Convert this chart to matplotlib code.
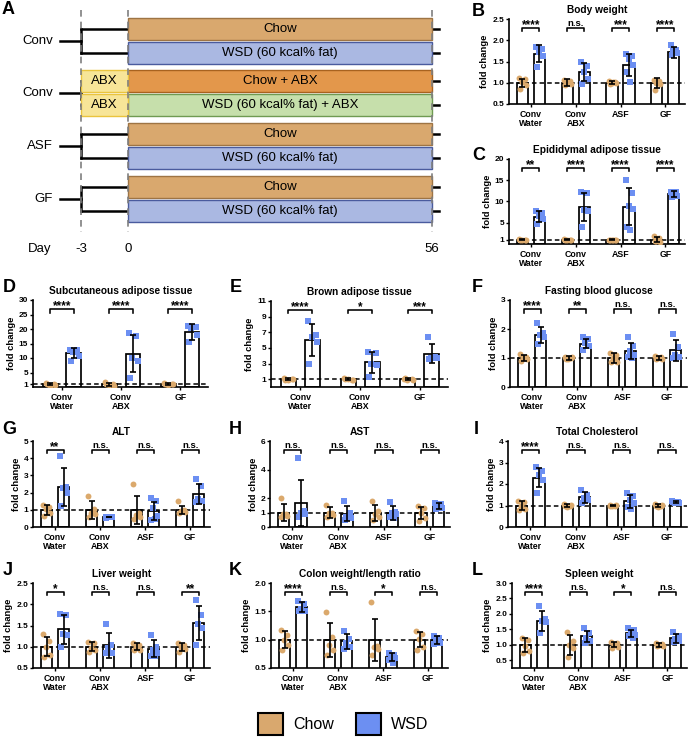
import numpy as np
import matplotlib.pyplot as plt
import matplotlib.transforms as mtransforms
from matplotlib.patches import Rectangle

plt.rcParams['font.family'] = ['Liberation Sans', 'DejaVu Sans']

W, H = 689, 740
CHOW_DOT = '#DBA96C'
WSD_DOT = '#6C8FF2'

# ---------------- data ----------------
groups4 = ['Conv\nWater', 'Conv\nABX', 'ASF', 'GF']
groups3 = ['Conv\nWater', 'Conv\nABX', 'GF']

# B body weight
bw_chow = [[1.12, 1.08, 1.02, 0.95, 0.86], [1.07, 1.05, 1.0, 0.98, 0.95],
           [1.03, 1.02, 1.0, 0.99, 0.97, 1.01], [1.07, 1.05, 1.0, 0.97, 0.82]]
bw_wsd = [[1.85, 1.80, 1.72, 1.62, 1.38], [1.50, 1.40, 1.25, 1.10, 0.98],
          [1.68, 1.64, 1.55, 1.42, 1.25, 1.02], [1.88, 1.78, 1.75, 1.70, 1.66]]
bw_mean = [[1.0, 1.0, 1.0, 1.0], [1.68, 1.25, 1.42, 1.72]]
bw_sd = [[0.1, 0.08, 0.04, 0.12], [0.2, 0.21, 0.25, 0.13]]
bw_sig = ['****', 'n.s.', '***', '****']

# C epididymal adipose tissue
ep_chow = [[1.1, 1.0, 0.9, 1.0, 0.95], [1.1, 1.0, 0.9, 1.05, 0.95],
           [1.05, 1.0, 0.95, 1.0, 0.9, 1.05], [1.8, 1.3, 0.8, 0.5, 0.6]]
ep_wsd = [[7.7, 7.3, 6.6, 5.9, 4.8], [12.3, 12.0, 8.0, 7.8, 3.9],
          [15.1, 12.0, 9.0, 8.2, 4.0, 3.2], [12.3, 12.2, 11.6, 11.3, 11.0]]
ep_mean = [[1.0, 1.0, 1.0, 1.0], [6.4, 8.7, 8.8, 11.7]]
ep_sd = [[0.1, 0.12, 0.08, 0.6], [1.3, 3.4, 4.4, 0.7]]
ep_sig = ['**', '****', '****', '****']

# D subcutaneous adipose tissue
sc_chow = [[1.5, 1.0, 0.5, 0.7, 1.2], [1.8, 1.2, 0.7, 0.5, 1.0], [1.3, 0.9, 0.6, 1.0, 1.2]]
sc_wsd = [[12.9, 12.6, 12.0, 10.6, 9.0], [18.6, 17.5, 10.0, 9.0, 3.0], [21.0, 20.6, 20.4, 18.1, 15.4]]
sc_mean = [[1.0, 1.0, 1.0], [11.7, 11.5, 19.0]]
sc_sd = [[0.45, 0.55, 0.4], [1.7, 6.4, 2.7]]
sc_sig = ['****', '****', '****']

# E brown adipose tissue
br_chow = [[1.1, 1.0, 0.9, 1.05, 0.95], [1.1, 0.95, 1.0, 0.9, 1.05], [1.05, 1.0, 0.9, 0.95, 1.1]]
br_wsd = [[8.5, 6.6, 6.4, 5.8, 2.9], [4.5, 4.35, 2.9, 2.8, 1.3], [6.4, 3.8, 3.7, 3.65, 3.6]]
br_mean = [[1.0, 1.0, 1.0], [6.0, 3.15, 4.25]]
br_sd = [[0.15, 0.12, 0.1], [2.05, 1.3, 1.2]]
br_sig = ['****', '*', '***']

# F fasting blood glucose
gl_chow = [[1.15, 1.05, 1.0, 0.95, 0.9], [1.05, 1.0, 0.97, 1.02, 0.96],
           [1.18, 1.1, 1.0, 0.85, 0.85, 1.0], [1.07, 1.03, 1.0, 0.95, 0.98]]
gl_wsd = [[2.2, 1.87, 1.8, 1.73, 1.48], [1.71, 1.67, 1.52, 1.4, 1.26],
          [1.71, 1.4, 1.25, 1.11, 1.03, 1.0], [1.84, 1.37, 1.11, 1.03, 1.0]]
gl_mean = [[1.0, 1.0, 1.0, 1.0], [1.8, 1.5, 1.25, 1.26]]
gl_sd = [[0.1, 0.07, 0.17, 0.08], [0.27, 0.17, 0.27, 0.36]]
gl_sig = ['****', '**', 'n.s.', 'n.s.']

# G ALT
alt_chow = [[1.3, 1.17, 1.02, 0.83, 0.65], [1.79, 1.05, 0.83, 0.77, 0.6],
            [2.5, 0.83, 0.7, 0.58, 0.45], [1.5, 1.0, 0.92, 0.88, 0.83]]
alt_wsd = [[4.15, 2.3, 2.27, 1.98, 1.25], [0.55, 0.57, 0.59, 0.6, 0.56],
           [1.69, 1.5, 1.12, 0.63, 0.4, 0.44], [2.8, 2.37, 1.6, 1.5, 1.46]]
alt_mean = [[1.0, 1.0, 1.0, 1.0], [2.33, 0.58, 0.93, 1.93]]
alt_sd = [[0.3, 0.52, 0.83, 0.25], [1.1, 0.02, 0.5, 0.58]]
alt_sig = ['**', 'n.s.', 'n.s.', 'n.s.']

# H AST
ast_chow = [[2.03, 0.92, 0.88, 0.76, 0.69], [1.55, 1.0, 0.95, 0.85, 0.7],
            [1.8, 1.1, 0.9, 0.7, 0.5], [1.5, 1.3, 1.0, 0.6, 0.4]]
ast_wsd = [[4.8, 1.15, 0.99, 0.92, 0.69], [1.8, 1.0, 0.7, 0.6, 0.5],
           [1.75, 1.05, 1.0, 0.9, 0.7, 0.6], [1.65, 1.6, 1.5, 1.3, 1.25]]
ast_mean = [[1.0, 1.0, 1.0, 1.0], [1.69, 0.92, 1.0, 1.45]]
ast_sd = [[0.6, 0.38, 0.55, 0.43], [1.6, 0.53, 0.5, 0.22]]
ast_sig = ['n.s.', 'n.s.', 'n.s.', 'n.s.']

# I total cholesterol
tc_chow = [[1.22, 1.15, 1.0, 0.85, 0.78], [1.05, 1.0, 0.95, 1.02, 0.98],
           [1.03, 1.0, 0.97, 1.01, 0.99], [1.05, 1.0, 0.95, 1.02, 0.98]]
tc_wsd = [[2.8, 2.6, 2.43, 2.2, 1.58], [1.7, 1.5, 1.35, 1.25, 1.1],
          [1.6, 1.45, 1.25, 1.1, 0.95, 0.85], [1.2, 1.15, 1.13, 1.1, 1.17]]
tc_mean = [[1.0, 1.0, 1.0, 1.0], [2.3, 1.38, 1.2, 1.15]]
tc_sd = [[0.22, 0.06, 0.04, 0.06], [0.45, 0.25, 0.3, 0.05]]
tc_sig = ['****', 'n.s.', 'n.s.', 'n.s.']

# J liver weight
lv_chow = [[1.29, 1.13, 1.0, 0.81, 0.77], [1.12, 1.08, 0.98, 0.93, 0.88],
           [1.1, 1.05, 1.0, 0.93, 0.92], [1.08, 1.05, 1.0, 0.95, 0.88]]
lv_wsd = [[1.77, 1.75, 1.31, 1.27, 1.0], [1.54, 1.04, 0.98, 0.85, 0.85],
          [1.27, 1.0, 0.92, 0.85, 0.79, 0.79], [2.1, 1.74, 1.54, 1.43, 1.04]]
lv_mean = [[1.0, 1.0, 1.0, 1.0], [1.41, 1.03, 0.95, 1.55]]
lv_sd = [[0.22, 0.11, 0.08, 0.1], [0.34, 0.3, 0.2, 0.4]]
lv_sig = ['*', 'n.s.', 'n.s.', '**']

# K colon weight/length ratio
cl_chow = [[1.17, 1.08, 0.99, 0.9, 0.81], [1.49, 1.05, 0.9, 0.81, 0.73],
           [1.66, 0.88, 0.87, 0.84, 0.73], [1.15, 1.1, 1.02, 0.87, 0.81]]
cl_wsd = [[1.69, 1.63, 1.55, 1.51, 1.5], [1.16, 1.02, 0.95, 0.87, 0.84],
          [0.76, 0.73, 0.7, 0.67, 0.64, 0.58], [1.06, 1.03, 1.0, 0.95, 0.93]]
cl_mean = [[1.0, 1.0, 1.0, 1.0], [1.57, 0.97, 0.69, 0.99]]
cl_sd = [[0.145, 0.3, 0.37, 0.13], [0.09, 0.13, 0.07, 0.07]]
cl_sig = ['****', 'n.s.', '*', 'n.s.']

# L spleen weight
sp_chow = [[1.21, 1.16, 0.95, 0.79, 0.73], [1.43, 1.13, 1.0, 0.89, 0.59],
           [1.08, 1.05, 1.0, 0.92, 0.9], [1.06, 1.03, 1.0, 0.95, 0.97]]
sp_wsd = [[2.26, 1.84, 1.77, 1.73, 1.38], [1.54, 1.38, 1.21, 1.11, 1.05],
          [1.54, 1.48, 1.38, 1.32, 1.27, 1.21], [1.4, 1.3, 1.2, 1.12, 1.08]]
sp_mean = [[1.0, 1.0, 1.0, 1.0], [1.77, 1.27, 1.37, 1.21]]
sp_sd = [[0.23, 0.33, 0.08, 0.06], [0.33, 0.19, 0.12, 0.14]]
sp_sig = ['****', 'n.s.', '*', 'n.s.']

# A design schematic
a_groups = ['Conv', 'Conv', 'ASF', 'GF']
a_diets = [['Chow', 'WSD (60 kcal% fat)'],
           ['Chow + ABX', 'WSD (60 kcal% fat) + ABX'],
           ['Chow', 'WSD (60 kcal% fat)'],
           ['Chow', 'WSD (60 kcal% fat)']]
a_days = ['-3', '0', '56']

# ---------------- figure ----------------
fig = plt.figure(figsize=(W / 100, H / 100), dpi=100)
ax0 = fig.add_axes([0, 0, 1, 1])
ax0.set_xlim(0, W)
ax0.set_ylim(H, 0)
ax0.axis('off')

# panel A (pixel layout)
day_x = [81, 128, 432]
grp_top = [18, 70, 123, 176]
bar_h, bar_gap = 21.5, 2.5
diet_style = {
    'Chow': ('#D9A86E', '#9E7444'),
    'WSD (60 kcal% fat)': ('#AAB8E2', '#4A5B9E'),
    'Chow + ABX': ('#E3974B', '#A8621F'),
    'WSD (60 kcal% fat) + ABX': ('#C6DFAB', '#6F9A52'),
}
for g, (name, diets, top) in enumerate(zip(a_groups, a_diets, grp_top)):
    cy = [top + bar_h / 2, top + bar_h + bar_gap + bar_h / 2]
    mid = (cy[0] + cy[1]) / 2
    for k, d in enumerate(diets):
        y = top + k * (bar_h + bar_gap)
        fc, ec = diet_style[d]
        ax0.add_patch(Rectangle((day_x[1], y), day_x[2] - day_x[1], bar_h,
                                facecolor=fc, edgecolor=ec, lw=1.0, zorder=3))
        ax0.text((day_x[1] + day_x[2]) / 2, y + bar_h / 2, d, ha='center', va='center',
                 fontsize=9.5, zorder=4)
        ax0.plot([day_x[0], day_x[2] + 7], [cy[k], cy[k]], color='black', lw=1.8, zorder=2)
        if 'ABX' in d:
            ax0.add_patch(Rectangle((day_x[0], y), day_x[1] - day_x[0], bar_h,
                                    facecolor='#F7E598', edgecolor='#EAC43E', lw=1.0, zorder=3))
            ax0.text((day_x[0] + day_x[1]) / 2, y + bar_h / 2, 'ABX', ha='center',
                     va='center', fontsize=9.5, zorder=4)
    if 'ABX' in diets[0]:
        ax0.plot([day_x[0], day_x[0]], [mid - 6, mid + 6], color='black', lw=1.8, zorder=2)
    else:
        ax0.plot([day_x[0], day_x[0]], [cy[0], cy[1]], color='black', lw=1.8, zorder=2)
    ax0.plot([60, day_x[0]], [mid, mid], color='black', lw=1.8, zorder=2)
    ax0.text(53, mid, name, ha='right', va='center', fontsize=9.5)

for x, lab in zip(day_x, a_days):
    ax0.plot([x, x], [10, 232], color='#7F7F7F', lw=1.2, ls=(0, (4, 3)), zorder=5)
    ax0.text(x, 249, lab, ha='center', va='center', fontsize=9.5)
ax0.text(40, 249, 'Day', ha='center', va='center', fontsize=9.5)

# legend
for x, lab, col in [(258, 'Chow', '#D9A86E'), (356, 'WSD', WSD_DOT)]:
    ax0.add_patch(Rectangle((x, 713), 25, 22, facecolor=col, edgecolor='black', lw=1.5))
    ax0.text(x + 35, 724.5, lab, ha='left', va='center', fontsize=11.5)

JIT = np.array([-0.07, 0.06, -0.01, 0.08, -0.05, 0.03])


def bar_panel(box, title, groups, chow, wsd, mean, sd, sig, ylim, yticks, fmt):
    x0, y0, x1, y1 = box
    ax = fig.add_axes([x0 / W, 1 - y1 / H, (x1 - x0) / W, (y1 - y0) / H])
    n = len(groups)
    xs = np.arange(n)
    off = 0.19 if n == 4 else 0.2
    for k, (pts, col, mk) in enumerate([(chow, CHOW_DOT, 'o'), (wsd, WSD_DOT, 's')]):
        pos = xs + (2 * k - 1) * off
        ax.bar(pos, mean[k], 0.25, color='white', edgecolor='black', lw=1.25, zorder=2)
        ax.errorbar(pos, mean[k], yerr=sd[k], fmt='none', ecolor='black',
                    elinewidth=1.2, capsize=2.5, capthick=1.2, zorder=5)
        for p, vals in zip(pos, pts):
            ax.scatter(p + JIT[:len(vals)], vals, s=18, marker=mk, color=col,
                       linewidths=0, zorder=4)
    ax.axhline(1, color='black', lw=1.1, ls=(0, (3, 2)), zorder=3)
    ax.set_xlim(-0.49, n - 0.56 if n == 4 else n - 0.53)
    ax.set_ylim(*ylim)
    ax.set_yticks(yticks)
    ax.set_yticklabels([fmt.format(v) for v in yticks], fontsize=6, fontweight='bold')
    ax.set_xticks(xs)
    ax.set_xticklabels(groups, fontsize=6.3, fontweight='bold', linespacing=1.05)
    ax.tick_params(axis='y', length=2.5, width=1, pad=1)
    ax.tick_params(axis='x', length=2, width=1, pad=2)
    for s in ['top', 'right']:
        ax.spines[s].set_visible(False)
    for s in ['left', 'bottom']:
        ax.spines[s].set_linewidth(1.2)
    ax.set_ylabel('fold change', fontsize=6.8, fontweight='bold', labelpad=2)
    ax.set_title(title, fontsize=7.3, fontweight='bold', pad=4)
    tr = mtransforms.blended_transform_factory(ax.transData, ax.transAxes)
    for i, s in enumerate(sig):
        ax.plot([i - off, i - off, i + off, i + off], [0.855, 0.895, 0.895, 0.855],
                transform=tr, color='black', lw=1.15, clip_on=False)
        if s == 'n.s.':
            ax.text(i, 0.915, s, transform=tr, ha='center', va='baseline',
                    fontsize=6.8, fontweight='bold')
        else:
            ax.text(i, 0.895, s, transform=tr, ha='center', va='baseline',
                    fontsize=8.5, fontweight='bold')
    return ax


f1 = '{:.1f}'
fg = '{:g}'
panels = [
    ('B', (472, 3), (509, 19, 685, 104), 'Body weight', groups4, bw_chow, bw_wsd, bw_mean, bw_sd, bw_sig,
     (0.5, 2.5), [0.5, 1.0, 1.5, 2.0, 2.5], f1),
    ('C', (472, 147), (509, 159, 685, 244), 'Epididymal adipose tissue', groups4, ep_chow, ep_wsd, ep_mean,
     ep_sd, ep_sig, (0, 20), [1, 5, 10, 15, 20], fg),
    ('D', (3, 279), (33, 300, 208, 387), 'Subcutaneous adipose tissue', groups3, sc_chow, sc_wsd, sc_mean,
     sc_sd, sc_sig, (0, 30), [1, 5, 10, 15, 20, 25, 30], fg),
    ('E', (230, 279), (271, 301, 448, 387), 'Brown adipose tissue', groups3, br_chow, br_wsd, br_mean,
     br_sd, br_sig, (0, 11), [1, 3, 5, 7, 9, 11], fg),
    ('F', (472, 279), (510, 300, 687, 387), 'Fasting blood glucose', groups4, gl_chow, gl_wsd, gl_mean,
     gl_sd, gl_sig, (0, 3), [0, 1, 2, 3], fg),
    ('G', (2, 421), (33, 441, 210, 527), 'ALT', groups4, alt_chow, alt_wsd, alt_mean, alt_sd, alt_sig,
     (0, 5), [0, 1, 2, 3, 4, 5], fg),
    ('H', (229, 421), (270, 441, 450, 527), 'AST', groups4, ast_chow, ast_wsd, ast_mean, ast_sd, ast_sig,
     (0, 6), [0, 1, 2, 4, 6], fg),
    ('I', (474, 421), (508, 441, 687, 527), 'Total Cholesterol', groups4, tc_chow, tc_wsd, tc_mean, tc_sd,
     tc_sig, (0, 4), [0, 1, 2, 3, 4], fg),
    ('J', (3, 562), (33, 583, 210, 668), 'Liver weight', groups4, lv_chow, lv_wsd, lv_mean, lv_sd, lv_sig,
     (0.5, 2.5), [0.5, 1.0, 1.5, 2.0, 2.5], f1),
    ('K', (229, 562), (271, 583, 448, 668), 'Colon weight/length ratio', groups4, cl_chow, cl_wsd, cl_mean,
     cl_sd, cl_sig, (0.5, 2.0), [0.5, 1.0, 1.5, 2.0], f1),
    ('L', (472, 562), (512, 583, 687, 668), 'Spleen weight', groups4, sp_chow, sp_wsd, sp_mean, sp_sd,
     sp_sig, (0.25, 3.0), [0.5, 1.0, 1.5, 2.0, 2.5, 3.0], f1),
]

fig.text(2 / W, 1 - 1 / H, 'A', fontsize=13, fontweight='bold', va='top', ha='left')
for letter, lpos, box, title, groups, chow, wsd, mean, sd, sig, ylim, yticks, fmt in panels:
    bar_panel(box, title, groups, chow, wsd, mean, sd, sig, ylim, yticks, fmt)
    fig.text(lpos[0] / W, 1 - lpos[1] / H, letter, fontsize=13, fontweight='bold',
             va='top', ha='left')

fig.savefig('out.png', dpi=100)
